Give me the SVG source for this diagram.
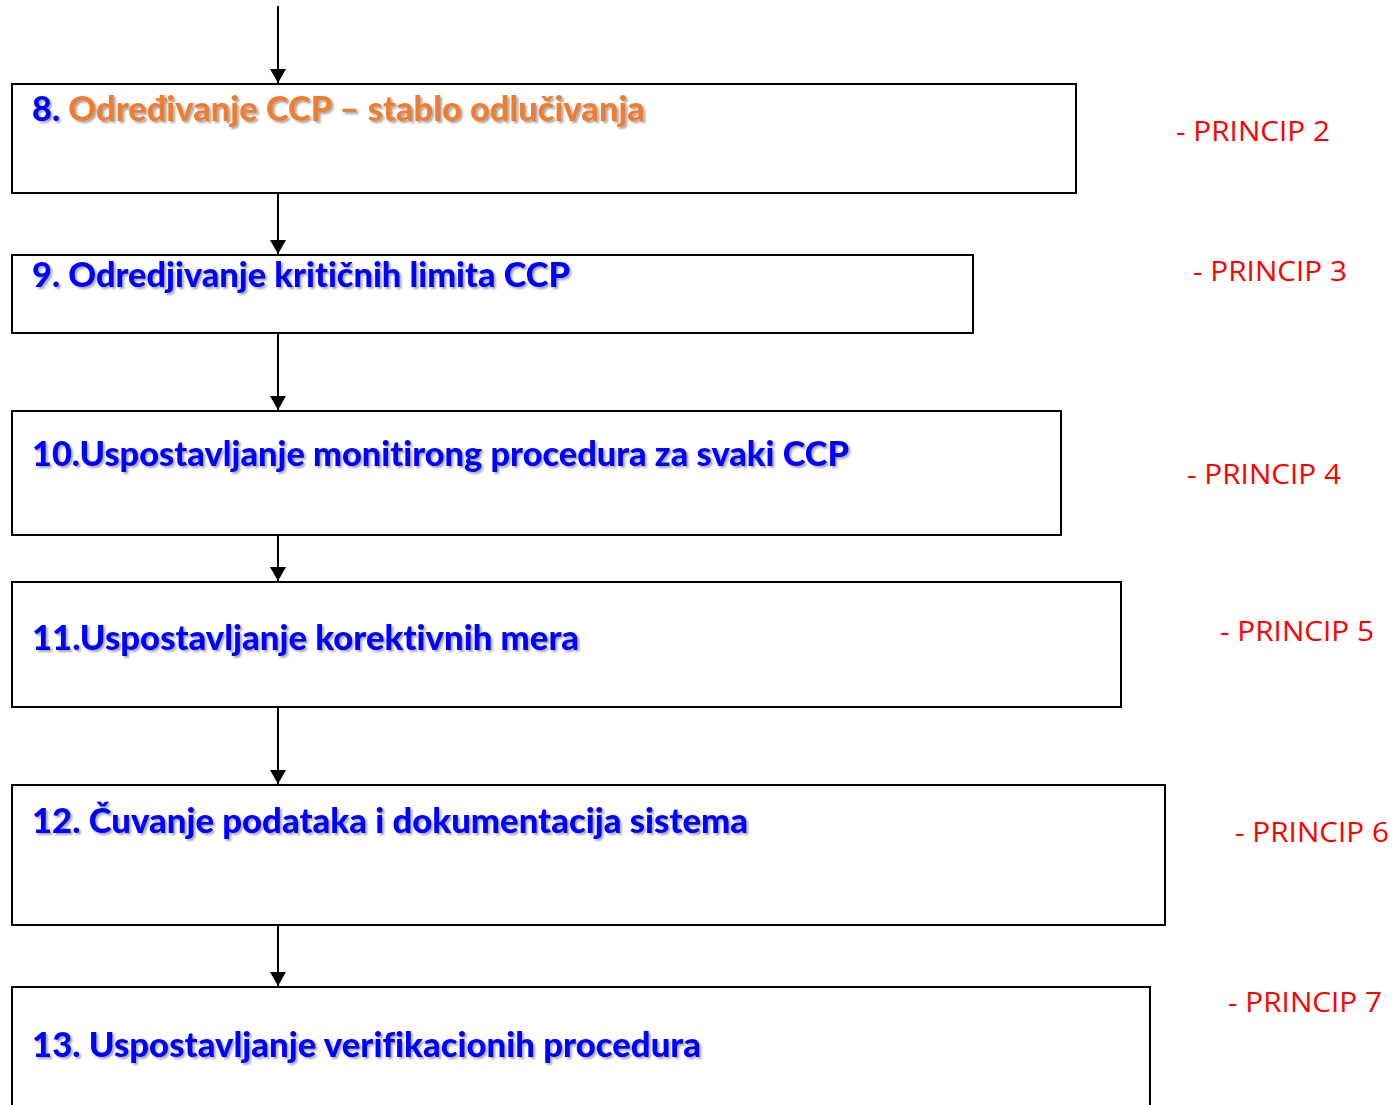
<svg xmlns="http://www.w3.org/2000/svg" width="1399" height="1105" viewBox="0 0 1399 1105">
<style>
.box{fill:#fff;stroke:#000;stroke-width:2}
.t{font-family:Lato,"Open Sans","Liberation Sans",sans-serif;font-weight:900;font-size:34px;fill:#0000FF;filter:url(#sh);font-variant-ligatures:none}
.o{fill:#ED7D31}
.p{font-family:"Open Sans","Liberation Sans",sans-serif;font-size:28px;fill:#FF0000}
.c{stroke:#000;stroke-width:2;fill:none;marker-end:url(#ah)}
</style>
<defs>
<filter id="sh" x="-5%" y="-30%" width="110%" height="160%">
<feDropShadow dx="2" dy="2" stdDeviation="1" flood-color="#000" flood-opacity="0.35"/>
</filter>
<marker id="ah" markerWidth="8" markerHeight="8" refX="7" refY="4" orient="auto" markerUnits="strokeWidth">
<path d="M0,0 L7,4 L0,8 Z" fill="#000"/>
</marker>
</defs>
<g id="connectors">
<line class="c" x1="278" y1="6" x2="278" y2="83"/>
<line class="c" x1="278" y1="194" x2="278" y2="254"/>
<line class="c" x1="278" y1="334" x2="278" y2="410"/>
<line class="c" x1="278" y1="536" x2="278" y2="581"/>
<line class="c" x1="278" y1="708" x2="278" y2="784"/>
<line class="c" x1="278" y1="926" x2="278" y2="986"/>
</g>
<g id="n8">
<rect class="box" x="12" y="84" width="1064" height="109"/>
<text class="t" x="32" y="121" textLength="613" lengthAdjust="spacingAndGlyphs">8. <tspan class="o">Određivanje CCP – stablo odlučivanja</tspan></text>
</g>
<g id="n9">
<rect class="box" x="12" y="255" width="961" height="78"/>
<text class="t" x="32" y="287" textLength="538" lengthAdjust="spacingAndGlyphs">9. Odredjivanje kritičnih limita CCP</text>
</g>
<g id="n10">
<rect class="box" x="12" y="411" width="1049" height="124"/>
<text class="t" x="32" y="466" textLength="817" lengthAdjust="spacingAndGlyphs">10.Uspostavljanje monitirong procedura za svaki CCP</text>
</g>
<g id="n11">
<rect class="box" x="12" y="582" width="1109" height="125"/>
<text class="t" x="32" y="650" textLength="547" lengthAdjust="spacingAndGlyphs">11.Uspostavljanje korektivnih mera</text>
</g>
<g id="n12">
<rect class="box" x="12" y="785" width="1153" height="140"/>
<text class="t" x="32" y="833" textLength="716" lengthAdjust="spacingAndGlyphs">12. Čuvanje podataka i dokumentacija sistema</text>
</g>
<g id="n13">
<rect class="box" x="12" y="987" width="1138" height="130"/>
<text class="t" x="32" y="1057" textLength="669" lengthAdjust="spacingAndGlyphs">13. Uspostavljanje verifikacionih procedura</text>
</g>
<g id="principles">
<text class="p" x="1176" y="141" textLength="154" lengthAdjust="spacingAndGlyphs">- PRINCIP 2</text>
<text class="p" x="1193" y="281" textLength="154" lengthAdjust="spacingAndGlyphs">- PRINCIP 3</text>
<text class="p" x="1187" y="484" textLength="154" lengthAdjust="spacingAndGlyphs">- PRINCIP 4</text>
<text class="p" x="1220" y="641" textLength="154" lengthAdjust="spacingAndGlyphs">- PRINCIP 5</text>
<text class="p" x="1235" y="842" textLength="154" lengthAdjust="spacingAndGlyphs">- PRINCIP 6</text>
<text class="p" x="1228" y="1012" textLength="154" lengthAdjust="spacingAndGlyphs">- PRINCIP 7</text>
</g>
</svg>
